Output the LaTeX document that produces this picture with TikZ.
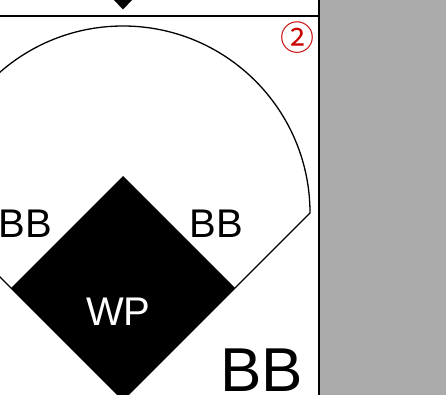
\documentclass[tikz,border=0pt]{standalone}
\usepackage{fontspec}
\setmainfont{Liberation Sans}
\newfontfamily\symfont{Noto Sans CJK JP}
\definecolor{panelgray}{RGB}{170,170,170}
\definecolor{markred}{RGB}{200,0,0}
\begin{document}
\begin{tikzpicture}[x=1pt,y=-1pt,
  lbl/.style={inner sep=0pt,outer sep=0pt,anchor=base west,text depth=0pt},
  outline/.style={draw=black,line width=1.3pt}]
\useasboundingbox (0,0) rectangle (446,395);
\clip (0,0) rectangle (446,395);
% gray side panel
\fill[panelgray] (319,0) rectangle (446,395);
\draw[line width=1.5pt] (319,0) -- (319,395);
% top separator and marker
\draw[line width=1.5pt] (0,16) -- (319,16);
\fill (113,-1) -- (133,-1) -- (123,9.5) -- cycle;
% field outline
\coordinate (home) at (123,400);
\coordinate (rend) at (310,213);
\coordinate (lend) at (-64,213);
\draw[outline] (home) -- (rend) arc[start angle=0,end angle=-180,radius=187] -- (home);
% diamond
\coordinate (dtop) at (123,176);
\coordinate (dleft) at (11,288);
\coordinate (dright) at (235,288);
\coordinate (dbot) at (123,400);
\fill (dtop) -- (dright) -- (dbot) -- (dleft) -- cycle;
% labels
\node[lbl,font=\fontsize{40}{40}\selectfont] (bbl) at (-1.3,237.3) {BB};
\node[lbl,font=\fontsize{40}{40}\selectfont] (bbr) at (189.8,237.3) {BB};
\node[lbl,font=\fontsize{40}{40}\selectfont,text=white] (wp) at (86.2,325) {WP};
\node[lbl,font=\fontsize{62}{62}\selectfont] (bbbig) at (220.5,391.7) {BB};
\node[inner sep=0pt,text=markred,font=\symfont\fontsize{34}{34}\selectfont] (two) at (297.5,37.5) {②};
\end{tikzpicture}
\end{document}
